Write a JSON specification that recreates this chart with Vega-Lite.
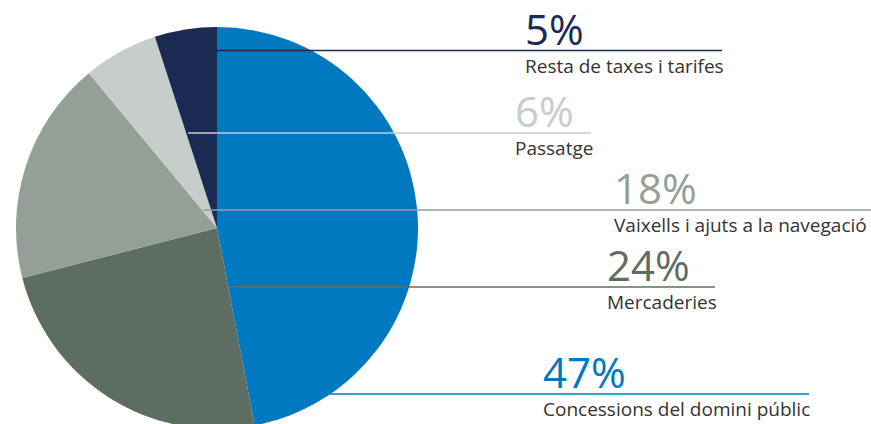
{
  "$schema": "https://vega.github.io/schema/vega-lite/v6.json",
  "width": 871,
  "height": 424,
  "padding": 0,
  "autosize": {"type": "none"},
  "background": "white",
  "config": {"view": {"stroke": null}, "text": {"font": "Open Sans"}},
  "data": {
    "values": [
      {"label": "Concessions del domini públic", "pct": "47%", "value": 47, "ord": 1, "lineStart": 330, "lineEnd": 809, "lineY": 394, "textX": 543},
      {"label": "Mercaderies", "pct": "24%", "value": 24, "ord": 2, "lineStart": 229, "lineEnd": 715, "lineY": 287, "textX": 607},
      {"label": "Vaixells i ajuts a la navegació", "pct": "18%", "value": 18, "ord": 3, "lineStart": 203, "lineEnd": 871, "lineY": 210, "textX": 614},
      {"label": "Passatge", "pct": "6%", "value": 6, "ord": 4, "lineStart": 188, "lineEnd": 591, "lineY": 133, "textX": 515},
      {"label": "Resta de taxes i tarifes", "pct": "5%", "value": 5, "ord": 5, "lineStart": 217, "lineEnd": 722, "lineY": 50.5, "textX": 525}
    ]
  },
  "layer": [
    {
      "mark": {"type": "arc", "outerRadius": 201, "stroke": null},
      "encoding": {
        "theta": {"field": "value", "type": "quantitative", "stack": true},
        "order": {"field": "ord", "type": "quantitative"},
        "x": {"datum": 217, "type": "quantitative", "scale": {"domain": [0, 871], "nice": false, "zero": false}, "axis": null},
        "y": {"datum": 228, "type": "quantitative", "scale": {"domain": [0, 424], "reverse": true, "nice": false, "zero": false}, "axis": null},
        "color": {
          "field": "label", "type": "nominal", "legend": null,
          "scale": {
            "domain": ["Concessions del domini públic", "Mercaderies", "Vaixells i ajuts a la navegació", "Passatge", "Resta de taxes i tarifes"],
            "range": ["#0079C1", "#5E6D62", "#949F98", "#C6CDCA", "#1B2A52"]
          }
        }
      }
    },
    {
      "mark": {"type": "rule", "strokeWidth": 1.5},
      "encoding": {
        "x": {"field": "lineStart", "type": "quantitative", "scale": {"domain": [0, 871], "nice": false}, "axis": null},
        "x2": {"field": "lineEnd"},
        "y": {"field": "lineY", "type": "quantitative", "scale": {"domain": [0, 424], "reverse": true, "nice": false}, "axis": null},
        "color": {"field": "label", "type": "nominal", "legend": null}
      }
    },
    {
      "mark": {"type": "text", "align": "left", "baseline": "alphabetic", "dy": -6, "fontSize": 42},
      "encoding": {
        "x": {"field": "textX", "type": "quantitative", "axis": null},
        "y": {"field": "lineY", "type": "quantitative", "axis": null},
        "text": {"field": "pct"},
        "color": {"field": "label", "type": "nominal", "legend": null}
      }
    },
    {
      "mark": {"type": "text", "align": "left", "baseline": "alphabetic", "dy": 22, "fontSize": 19, "color": "#333333"},
      "encoding": {
        "x": {"field": "textX", "type": "quantitative", "axis": null},
        "y": {"field": "lineY", "type": "quantitative", "axis": null},
        "text": {"field": "label"}
      }
    }
  ]
}
